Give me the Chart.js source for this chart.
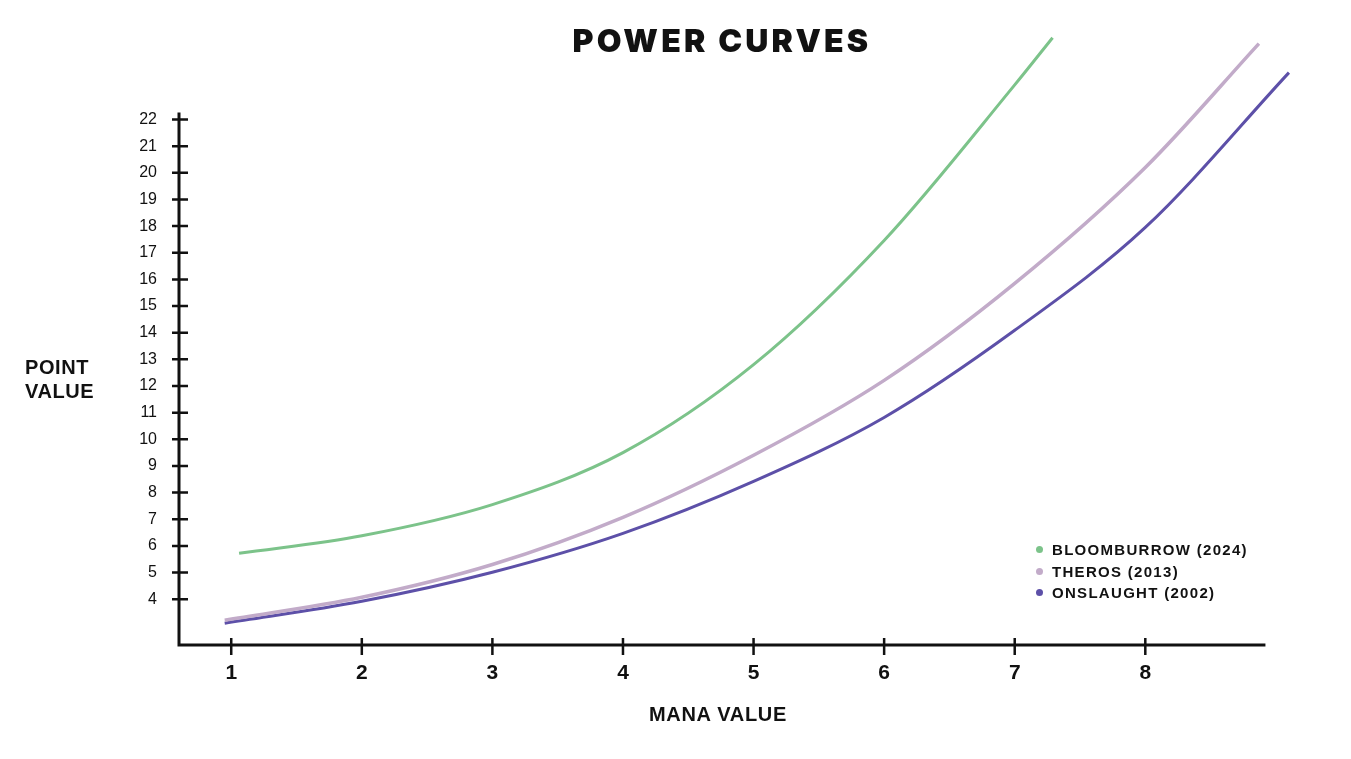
<!DOCTYPE html>
<html>
<head>
<meta charset="utf-8">
<script src="https://cdn.jsdelivr.net/npm/chart.js@4.4.1/dist/chart.umd.min.js"></script>
<style>
  body { margin: 0; background: #fff; }
  #wrap { position: relative; width: 1351px; height: 759px; font-family: "Liberation Sans", Arial, sans-serif; color: #111; }
  #title { position: absolute; left: 0; width: 1444px; top: 21px; text-align: center; font-family: Inter, "Liberation Sans", sans-serif; font-weight: 900; font-size: 32px; letter-spacing: 3.2px; }
  #ylab { position: absolute; left: 25px; top: 355px; font-weight: bold; font-size: 20px; line-height: 24px; letter-spacing: 0.6px; }
  #xlab { position: absolute; left: 0; width: 1436px; top: 703px; text-align: center; font-weight: bold; font-size: 20px; letter-spacing: 0.7px; }
  #legend { position: absolute; left: 1036px; top: 539px; font-weight: bold; font-size: 15px; line-height: 21.5px; letter-spacing: 1.3px; }
  #legend span.dot { display: inline-block; width: 7px; height: 7px; border-radius: 50%; margin-right: 9px; vertical-align: 2px; }
</style>
</head>
<body>
<div id="wrap">
  <canvas id="line-chart"></canvas>
  <div id="title">POWER CURVES</div>
  <div id="ylab">POINT<br>VALUE</div>
  <div id="xlab">MANA VALUE</div>
  <div id="legend"></div>
</div>
<script>
// values
var seriesNames = ["BLOOMBURROW (2024)", "THEROS (2013)", "ONSLAUGHT (2002)"];
var seriesColors = ["#7cc38a", "#c2abc9", "#5d50a8"];

var bloomX = [1.06, 2, 3, 4, 5, 6, 7, 7.29];
var bloomY = [5.72, 6.38, 7.55, 9.5, 12.8, 17.46, 23.3, 25.07];

var therosX = [0.95, 2, 3, 4, 5, 6, 7, 8, 8.87];
var therosY = [3.21, 4.07, 5.3, 7.07, 9.4, 12.21, 15.85, 20.2, 24.85];

var onslX = [0.95, 2, 3, 4, 5, 6, 7, 8, 9.1];
var onslY = [3.1, 3.92, 5.01, 6.47, 8.42, 10.82, 14.09, 17.95, 23.76];

var xTicks = [1, 2, 3, 4, 5, 6, 7, 8];
var yTicks = [4, 5, 6, 7, 8, 9, 10, 11, 12, 13, 14, 15, 16, 17, 18, 19, 20, 21, 22];

function pairs(xs, ys) {
  var out = [];
  for (let i = 0; i < xs.length; i++) {
    out.push({x: xs[i], y: ys[i]});
  }
  return out;
}

var legendBox = document.getElementById('legend');
for (let i = 0; i < seriesNames.length; i++) {
  legendBox.innerHTML += '<div><span class="dot" style="background:' + seriesColors[i] + '"></span>' + seriesNames[i] + '</div>';
}

// axis lines with ticks crossing them
var axesPlugin = {
  id: 'axes',
  beforeDatasetsDraw: function(chart) {
    var ctx = chart.ctx;
    var xs = chart.scales.x, ys = chart.scales.y;
    var x0 = xs.getPixelForValue(0.6);
    var y0 = ys.getPixelForValue(2.28);
    ctx.save();
    ctx.strokeStyle = '#111';
    ctx.lineWidth = 3;
    ctx.beginPath();
    ctx.moveTo(x0, ys.getPixelForValue(22.26));
    ctx.lineTo(x0, y0);
    ctx.lineTo(xs.getPixelForValue(8.92), y0);
    ctx.stroke();
    ctx.lineWidth = 2.5;
    ctx.beginPath();
    yTicks.forEach(function(v) {
      var p = ys.getPixelForValue(v);
      ctx.moveTo(x0 - 7, p);
      ctx.lineTo(x0 + 9, p);
    });
    xTicks.forEach(function(v) {
      var p = xs.getPixelForValue(v);
      ctx.moveTo(p, y0 - 7);
      ctx.lineTo(p, y0 + 10);
    });
    ctx.stroke();
    ctx.restore();
  }
};

var datasets = [pairs(bloomX, bloomY), pairs(therosX, therosY), pairs(onslX, onslY)].map(function(d, i) {
  return {
    label: seriesNames[i],
    data: d,
    borderColor: seriesColors[i],
    borderWidth: i == 1 ? 3.5 : 3,
    pointRadius: 0,
    fill: false,
    cubicInterpolationMode: 'monotone',
    clip: false
  };
});

new Chart(document.getElementById("line-chart"), {
  type: 'line',
  data: { datasets: datasets },
  plugins: [axesPlugin],
  options: {
    responsive: true,
    maintainAspectRatio: false,
    animation: false,
    layout: { padding: { top: 31, right: 49, bottom: 0, left: 0 } },
    plugins: {
      legend: { display: false },
      tooltip: { enabled: false }
    },
    scales: {
      x: {
        type: 'linear',
        min: 0.6,
        max: 9.2,
        afterFit: function(s) { s.height = 114; },
        afterBuildTicks: function(s) { s.ticks = xTicks.map(function(v) { return {value: v}; }); },
        grid: { display: false, drawTicks: false },
        border: { display: false },
        ticks: {
          padding: 16,
          autoSkip: false,
          maxRotation: 0,
          color: '#111',
          font: { family: 'Liberation Sans', size: 21, weight: 'bold' }
        }
      },
      y: {
        type: 'linear',
        min: 2.28,
        max: 25.3,
        afterFit: function(s) { s.width = 179; },
        afterBuildTicks: function(s) { s.ticks = yTicks.map(function(v) { return {value: v}; }); },
        grid: { display: false, drawTicks: false },
        border: { display: false },
        ticks: {
          padding: 22,
          autoSkip: false,
          color: '#111',
          font: { family: 'Liberation Sans', size: 16 }
        }
      }
    }
  }
});
</script>
</body>
</html>
